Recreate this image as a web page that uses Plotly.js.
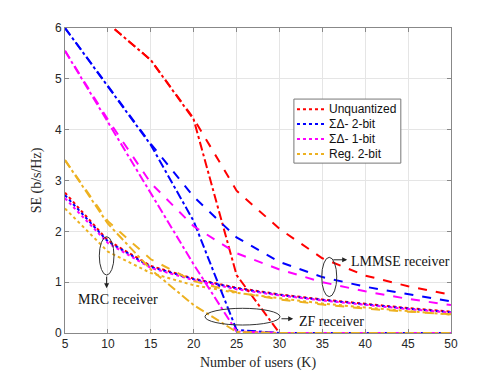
<!DOCTYPE html>
<html>
<head>
<meta charset="utf-8">
<script src="https://cdn.plot.ly/plotly-3.0.1.min.js"></script>
<style>
  html, body { margin: 0; padding: 0; background: #fff; }
  #chart { width: 498px; height: 374px; }
</style>
</head>
<body>
<div id="chart"></div>
<script>
// number of users
var users = [5, 10, 15, 20, 25, 30, 35, 40, 45, 50];

var names = ["Unquantized", "\u03A3\u0394- 2-bit", "\u03A3\u0394- 1-bit", "Reg. 2-bit"];
var colors = ["#ff0000", "#0000ff", "#ff00ff", "#edb120"];

// MRC receiver (dotted)
var mrcUnq = [2.76, 1.82, 1.32, 1.07, 0.89, 0.76, 0.66, 0.57, 0.49, 0.42];
var mrcSD2 = [2.71, 1.80, 1.30, 1.06, 0.88, 0.75, 0.65, 0.56, 0.48, 0.41];
var mrcSD1 = [2.65, 1.77, 1.28, 1.04, 0.86, 0.74, 0.64, 0.55, 0.47, 0.40];
var mrcReg = [2.45, 1.60, 1.18, 0.94, 0.79, 0.68, 0.58, 0.50, 0.43, 0.36];

// ZF receiver (dash-dot)
var zfUnq = [7.0, 6.09, 5.37, 4.2, 1.14, 0, 0, 0, 0, 0];
var zfSD2 = [6.0, 4.85, 3.7, 2.2, 0.06, 0, 0, 0, 0, 0];
var zfSD1 = [5.55, 4.15, 2.75, 1.35, 0.03, 0, 0, 0, 0, 0];
var zfReg = [3.4, 2.15, 1.25, 0.55, 0.02, 0, 0, 0, 0, 0];

// LMMSE receiver (dashed)
var lmUnq = [7.0, 6.09, 5.37, 4.22, 2.8, 2.05, 1.47, 1.13, 0.92, 0.75];
var lmSD2 = [6.0, 4.85, 3.72, 2.68, 1.88, 1.40, 1.10, 0.91, 0.76, 0.62];
var lmSD1 = [5.55, 4.2, 2.95, 2.1, 1.57, 1.25, 1.0, 0.82, 0.67, 0.55];
var lmReg = [3.4, 2.2, 1.45, 1.02, 0.80, 0.66, 0.56, 0.48, 0.42, 0.37];

var mrc = [mrcUnq, mrcSD2, mrcSD1, mrcReg];
var zf = [zfUnq, zfSD2, zfSD1, zfReg];
var lm = [lmUnq, lmSD2, lmSD1, lmReg];

var traces = [];
function addGroup(sets, dash) {
  sets.forEach(function (y, i) {
    traces.push({
      x: users,
      y: y,
      type: "scatter",
      mode: "lines",
      name: names[i],
      showlegend: false,
      line: { color: colors[i], width: 2, dash: dash }
    });
  });
}
addGroup(mrc, "dot");
addGroup(zf, "dashdot");
addGroup(lm, "dash");

var serif = "Liberation Serif, Times New Roman, serif";
var ell = { type: "circle", xref: "x", yref: "y", line: { color: "#333", width: 1 } };

var shapes = [
  Object.assign({ x0: 9.0, x1: 10.71, y0: 1.14, y1: 1.895 }, ell),
  Object.assign({ x0: 21.32, x1: 30.06, y0: 0.157, y1: 0.486 }, ell),
  Object.assign({ x0: 34.93, x1: 36.68, y0: 0.715, y1: 1.489 }, ell),
  // legend box
  { type: "rect", xref: "paper", yref: "paper", x0: 0.593, x1: 0.870, y0: 0.557, y1: 0.767,
    fillcolor: "#fff", line: { color: "#777", width: 1 } }
];

var annotations = [
  { x: 9.85, y: 0.88, ax: 9.85, ay: 1.14, xref: "x", yref: "y", axref: "x", ayref: "y",
    text: "", showarrow: true, arrowhead: 2, arrowsize: 1, arrowwidth: 1, arrowcolor: "#222" },
  { x: 31.6, y: 0.28, ax: 30.06, ay: 0.28, xref: "x", yref: "y", axref: "x", ayref: "y",
    text: "", showarrow: true, arrowhead: 2, arrowsize: 1, arrowwidth: 1, arrowcolor: "#222" },
  { x: 37.9, y: 1.44, ax: 36.1, ay: 1.44, xref: "x", yref: "y", axref: "x", ayref: "y",
    text: "", showarrow: true, arrowhead: 2, arrowsize: 1, arrowwidth: 1, arrowcolor: "#222" },
  { x: 11.2, y: 0.65, xref: "x", yref: "y", text: "MRC receiver", showarrow: false,
    font: { family: serif, size: 14, color: "#111" } },
  { x: 32.05, y: 0.22, xref: "x", yref: "y", xanchor: "left", text: "ZF receiver", showarrow: false,
    font: { family: serif, size: 14, color: "#111" } },
  { x: 38.1, y: 1.40, xref: "x", yref: "y", xanchor: "left", text: "LMMSE receiver", showarrow: false,
    font: { family: serif, size: 14, color: "#111" } }
];

// hand-made legend (MATLAB style, tight rows)
names.forEach(function (n, i) {
  var yy = 0.734 - i * 0.049;
  shapes.push({ type: "line", xref: "paper", yref: "paper", x0: 0.601, x1: 0.671, y0: yy, y1: yy,
    line: { color: colors[i], width: 2, dash: "dot" } });
  annotations.push({ x: 0.679, y: yy, xref: "paper", yref: "paper", xanchor: "left", yanchor: "middle",
    text: n, showarrow: false, font: { size: 12, color: "#111" } });
});

var layout = {
  width: 498,
  height: 374,
  margin: { l: 65, r: 47, t: 28, b: 41 },
  paper_bgcolor: "#fff",
  plot_bgcolor: "#fff",
  showlegend: false,
  font: { family: "Liberation Sans, Arial, sans-serif", size: 12, color: "#262626" },
  xaxis: {
    range: [5, 50],
    tickvals: users,
    showgrid: true,
    gridcolor: "#e5e5e5",
    zeroline: false,
    showline: true,
    linecolor: "#888",
    mirror: "ticks",
    ticks: "inside",
    ticklen: 4,
    tickcolor: "#888",
    title: { text: "Number of users (K)", font: { family: serif, size: 14, color: "#262626" }, standoff: 6 }
  },
  yaxis: {
    range: [0, 6],
    dtick: 1,
    showgrid: true,
    gridcolor: "#e5e5e5",
    zeroline: false,
    showline: true,
    linecolor: "#888",
    mirror: "ticks",
    ticks: "inside",
    ticklen: 4,
    tickcolor: "#888",
    title: { text: "SE (b/s/Hz)", font: { family: serif, size: 14, color: "#262626" }, standoff: 10 }
  },
  shapes: shapes,
  annotations: annotations
};

Plotly.newPlot("chart", traces, layout, { displayModeBar: false, staticPlot: true });
</script>
</body>
</html>
